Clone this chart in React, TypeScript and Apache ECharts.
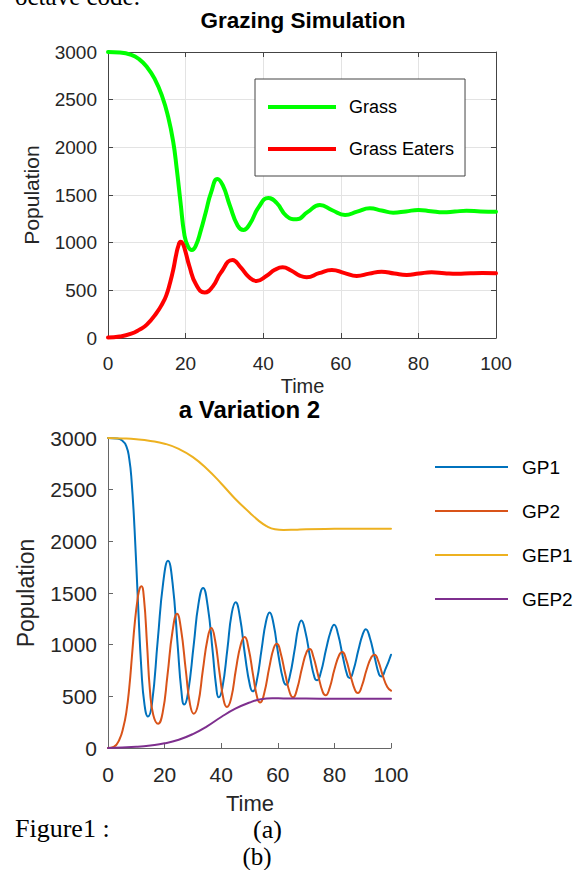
import React, { useEffect, useRef } from "react";
import * as echarts from "echarts";

const SANS = "'Liberation Sans', Arial, Helvetica, sans-serif";
const SERIF = "'Liberation Serif', 'Times New Roman', serif";

// ---- axis ticks ----
const timeTicks = [0, 20, 40, 60, 80, 100];
const popTicks = [0, 500, 1000, 1500, 2000, 2500, 3000];

// ---- top chart: Grazing Simulation ----
const grassNames = ["Grass", "Grass Eaters"];
const grass: [number, number][] = [
  [0, 3000], [3, 2995], [6, 2970], [8, 2925], [10, 2845], [12, 2720], [14, 2530],
  [15.5, 2320], [16.8, 2060], [17.7, 1780], [18.7, 1420], [19.7, 1080], [20.6, 960],
  [21.6, 922], [22.6, 965], [24, 1140], [25.2, 1320], [26.6, 1530], [28.2, 1668],
  [29.6, 1600], [31.4, 1390], [33.4, 1180], [34.9, 1133], [36.6, 1200], [38.8, 1370],
  [41.3, 1468], [43.4, 1420], [46, 1280], [48.6, 1245], [51.4, 1320], [54.6, 1395],
  [57.8, 1340], [61.1, 1290], [64.2, 1325], [67.5, 1360], [70.5, 1338], [73.5, 1315],
  [76.8, 1328], [80, 1343], [83.2, 1330], [86.4, 1318], [89.4, 1326], [92.4, 1335],
  [96, 1328], [100, 1325],
];
const grassEaters: [number, number][] = [
  [0, 5], [3, 15], [6, 45], [8, 85], [10, 140], [12.5, 262], [14, 360], [15, 445],
  [16, 580], [16.8, 713], [17.6, 880], [18.2, 975], [18.7, 1010], [19.2, 995],
  [19.8, 930], [21, 750], [22.7, 560], [24.9, 477], [27, 540], [29, 680], [32.1, 818],
  [34.2, 740], [36.3, 640], [38.3, 598], [40.8, 650], [43, 715], [45, 742], [47.3, 705],
  [49.4, 655], [51.2, 637], [54.4, 680], [57.7, 713], [61, 680], [64.1, 650], [67.3, 675],
  [70.5, 696], [73.8, 676], [77, 661], [80.2, 676], [83.4, 689], [86.7, 680], [90, 674],
  [93.5, 679], [96.5, 681], [100, 679],
];

// ---- bottom chart: a Variation 2 ----
const variationNames = ["GP1", "GP2", "GEP1", "GEP2"];
const gp1: [number, number][] = [
  [0, 3000], [3, 2995], [5, 2975], [6.5, 2920], [7.5, 2800], [8.3, 2600], [9.4, 2110],
  [10.6, 1405], [11.8, 760], [12.9, 420], [14.1, 305], [15.5, 420], [17.6, 1050],
  [19.5, 1600], [21.2, 1812], [22.8, 1600], [24.6, 1000], [25.9, 560], [26.9, 420],
  [28.2, 520], [30.3, 1000], [32, 1400], [33.6, 1548], [35.2, 1380], [37, 930],
  [38.2, 600], [39.1, 490], [40.4, 580], [42.2, 960], [43.7, 1300], [45.1, 1410],
  [46.6, 1270], [48.4, 900], [50.2, 600], [51.2, 548], [52.5, 640], [54.3, 960],
  [55.8, 1220], [57.1, 1312], [58.5, 1200], [60.2, 900], [62, 650], [63, 612],
  [64.2, 690], [66, 960], [67.2, 1160], [68.3, 1235], [69.7, 1130], [71.4, 880],
  [73, 680], [73.9, 655], [75.2, 730], [77.1, 960], [78.7, 1130], [79.9, 1193],
  [81.3, 1100], [83, 880], [84.6, 700], [85.4, 677], [86.7, 750], [88.5, 950],
  [90, 1100], [91.1, 1150], [92.5, 1070], [94.2, 880], [95.8, 710], [96.6, 693],
  [98, 760], [100, 903],
];
const gp2: [number, number][] = [
  [0, 0], [2, 10], [4, 80], [5.5, 210], [6.5, 350], [7.5, 580], [8.5, 900], [9.5, 1220],
  [10.5, 1450], [11.2, 1545], [11.8, 1565], [12.7, 1450], [13.8, 1000], [14.8, 565], [16, 320],
  [17.7, 235], [19.3, 340], [21, 700], [22.8, 1130], [24.4, 1300], [25.8, 1150],
  [27.5, 750], [29, 420], [30.3, 332], [31.8, 420], [33.5, 750], [35.2, 1060],
  [36.5, 1161], [37.8, 1050], [39.4, 730], [40.9, 460], [42, 397], [43.5, 480],
  [45.2, 760], [46.9, 1000], [48.3, 1074], [49.7, 960], [51.3, 700], [52.8, 480],
  [53.8, 441], [55.2, 530], [57, 780], [58.6, 970], [59.7, 1009], [61, 920],
  [62.6, 720], [64.3, 530], [65.4, 490], [66.8, 570], [68.6, 780], [70.2, 930],
  [71.3, 958], [72.6, 880], [74.2, 710], [75.9, 540], [76.9, 510], [78.3, 580],
  [80, 760], [81.7, 900], [82.8, 929], [84.1, 860], [85.7, 700], [87.3, 560],
  [88.3, 532], [89.7, 600], [91.4, 760], [93.1, 880], [94.2, 903], [95.5, 840],
  [97.1, 700], [98.7, 590], [100, 555],
];
const gep1: [number, number][] = [
  [0, 3000], [5, 2996], [10, 2988], [15, 2972], [20, 2945], [25, 2895], [30, 2815],
  [35, 2700], [40, 2560], [45, 2410], [50, 2280], [53, 2205], [56, 2148], [59, 2117],
  [62, 2110], [66, 2113], [70, 2118], [80, 2121], [90, 2122], [100, 2122],
];
const gep2: [number, number][] = [
  [0, 0], [5, 5], [10, 12], [15, 25], [20, 45], [25, 80], [30, 135], [35, 210],
  [40, 300], [45, 380], [50, 440], [54, 472], [58, 482], [62, 480], [70, 478],
  [80, 477], [100, 477],
];

const topColors = ["#00ff00", "#ff0000"];
const bottomColors = ["#0072bd", "#d95319", "#edb120", "#7e2f8e"];

const tMin = timeTicks[0];
const tMax = timeTicks[timeTicks.length - 1];
const tInt = timeTicks[1] - timeTicks[0];
const pMin = popTicks[0];
const pMax = popTicks[popTicks.length - 1];
const pInt = popTicks[1] - popTicks[0];

const plain = (v: number) => String(v);

function axisBase(color: string) {
  return {
    type: "value" as const,
    axisLine: { show: true, onZero: false, lineStyle: { color, width: 1 } },
    axisTick: { show: true, inside: true, length: 5, lineStyle: { color, width: 1 } },
  };
}

export default function App() {
  const ref = useRef<HTMLDivElement>(null);
  useEffect(() => {
    if (!ref.current) return;
    const chart = echarts.init(ref.current, undefined, { renderer: "svg" });
    const topAxisColor = "#444";
    const botAxisColor = "#666";
    const tickLabelColor = "#262626";
    const option: any = {
      animation: false,
      backgroundColor: "#ffffff",
      grid: [
        { left: 108, top: 52, width: 388, height: 286, show: false },
        { left: 108, top: 438, width: 283, height: 310, show: false },
      ],
      xAxis: [
        {
          ...axisBase(topAxisColor), gridIndex: 0, position: "bottom",
          min: tMin, max: tMax, interval: tInt,
          axisLabel: { fontSize: 19, color: tickLabelColor, margin: 16, fontFamily: SANS, formatter: plain },
          splitLine: { show: true, lineStyle: { color: "#e3e3e3", width: 1 } },
        },
        {
          ...axisBase(topAxisColor), gridIndex: 0, position: "top",
          min: tMin, max: tMax, interval: tInt,
          axisLabel: { show: false }, splitLine: { show: false },
        },
        {
          ...axisBase(botAxisColor), gridIndex: 1, position: "bottom",
          min: tMin, max: tMax, interval: tInt,
          axisLabel: { fontSize: 21, color: tickLabelColor, margin: 16, fontFamily: SANS, formatter: plain },
          splitLine: { show: false },
        },
      ],
      yAxis: [
        {
          ...axisBase(topAxisColor), gridIndex: 0, position: "left",
          min: pMin, max: pMax, interval: pInt,
          axisLabel: { fontSize: 19, color: tickLabelColor, margin: 11, fontFamily: SANS, formatter: plain },
          splitLine: { show: true, lineStyle: { color: "#e3e3e3", width: 1 } },
        },
        {
          ...axisBase(topAxisColor), gridIndex: 0, position: "right",
          min: pMin, max: pMax, interval: pInt,
          axisLabel: { show: false }, splitLine: { show: false },
        },
        {
          ...axisBase(botAxisColor), gridIndex: 1, position: "left",
          min: pMin, max: pMax, interval: pInt,
          axisLabel: { fontSize: 21, color: tickLabelColor, margin: 11, fontFamily: SANS, formatter: plain },
          splitLine: { show: false },
        },
      ],
      legend: [
        {
          orient: "vertical", left: 255, top: 79,
          data: grassNames, icon: "rect", itemWidth: 68, itemHeight: 4, itemGap: 22,
          padding: [18, 11, 17, 13],
          borderColor: "#444", borderWidth: 1, backgroundColor: "#ffffff",
          selectedMode: false,
          textStyle: { fontSize: 18, color: "#000", fontFamily: SANS, lineHeight: 20, padding: [0, 0, 0, 8] },
        },
        {
          orient: "vertical", left: 435, top: 457,
          data: variationNames, icon: "rect", itemWidth: 73, itemHeight: 2, itemGap: 24,
          padding: 0, selectedMode: false,
          textStyle: { fontSize: 19, color: "#000", fontFamily: SANS, lineHeight: 20, padding: [0, 0, 0, 9] },
        },
      ],
      series: [
        { name: grassNames[0], data: grass, color: topColors[0], xAxisIndex: 0, yAxisIndex: 0, lw: 4 },
        { name: grassNames[1], data: grassEaters, color: topColors[1], xAxisIndex: 0, yAxisIndex: 0, lw: 4 },
        { name: variationNames[0], data: gp1, color: bottomColors[0], xAxisIndex: 2, yAxisIndex: 2, lw: 2 },
        { name: variationNames[1], data: gp2, color: bottomColors[1], xAxisIndex: 2, yAxisIndex: 2, lw: 2 },
        { name: variationNames[2], data: gep1, color: bottomColors[2], xAxisIndex: 2, yAxisIndex: 2, lw: 2 },
        { name: variationNames[3], data: gep2, color: bottomColors[3], xAxisIndex: 2, yAxisIndex: 2, lw: 2 },
      ].map((s) => ({
        type: "line",
        name: s.name,
        data: s.data,
        xAxisIndex: s.xAxisIndex,
        yAxisIndex: s.yAxisIndex,
        color: s.color,
        showSymbol: false,
        symbol: "none",
        smooth: 0.5,
        lineStyle: { width: s.lw, color: s.color, join: "round", cap: "round" },
        itemStyle: { color: s.color },
        z: 3,
      })),
      graphic: [
        { type: "text", x: 15, y: -4, style: { text: "octave code.", font: `25px ${SERIF}`, fill: "#000", align: "left", verticalAlign: "middle" } },
        { type: "text", x: 303, y: 20, style: { text: "Grazing Simulation", font: `bold 22.5px ${SANS}`, fill: "#000", align: "center", verticalAlign: "middle" } },
        { type: "text", x: 302.5, y: 386, style: { text: "Time", font: `20px ${SANS}`, fill: "#262626", align: "center", verticalAlign: "middle" } },
        { type: "text", x: 31, y: 195, rotation: Math.PI / 2, style: { text: "Population", font: `21px ${SANS}`, fill: "#262626", align: "center", verticalAlign: "middle" } },
        { type: "text", x: 249.5, y: 409, style: { text: "a Variation 2", font: `bold 24px ${SANS}`, fill: "#000", align: "center", verticalAlign: "middle" } },
        { type: "text", x: 250, y: 803, style: { text: "Time", font: `22px ${SANS}`, fill: "#262626", align: "center", verticalAlign: "middle" } },
        { type: "text", x: 26, y: 593, rotation: Math.PI / 2, style: { text: "Population", font: `23px ${SANS}`, fill: "#262626", align: "center", verticalAlign: "middle" } },
        { type: "text", x: 15, y: 828, style: { text: "Figure1 :", font: `26px ${SERIF}`, fill: "#000", align: "left", verticalAlign: "middle" } },
        { type: "text", x: 267.5, y: 829, style: { text: "(a)", font: `26px ${SERIF}`, fill: "#000", align: "center", verticalAlign: "middle" } },
        { type: "text", x: 257, y: 856, style: { text: "(b)", font: `25px ${SERIF}`, fill: "#000", align: "center", verticalAlign: "middle" } },
      ],
    };
    chart.setOption(option);
    return () => chart.dispose();
  }, []);
  return (
    <div
      ref={ref}
      style={{ position: "absolute", left: 0, top: 0, width: 578, height: 870, background: "#fff" }}
    />
  );
}
